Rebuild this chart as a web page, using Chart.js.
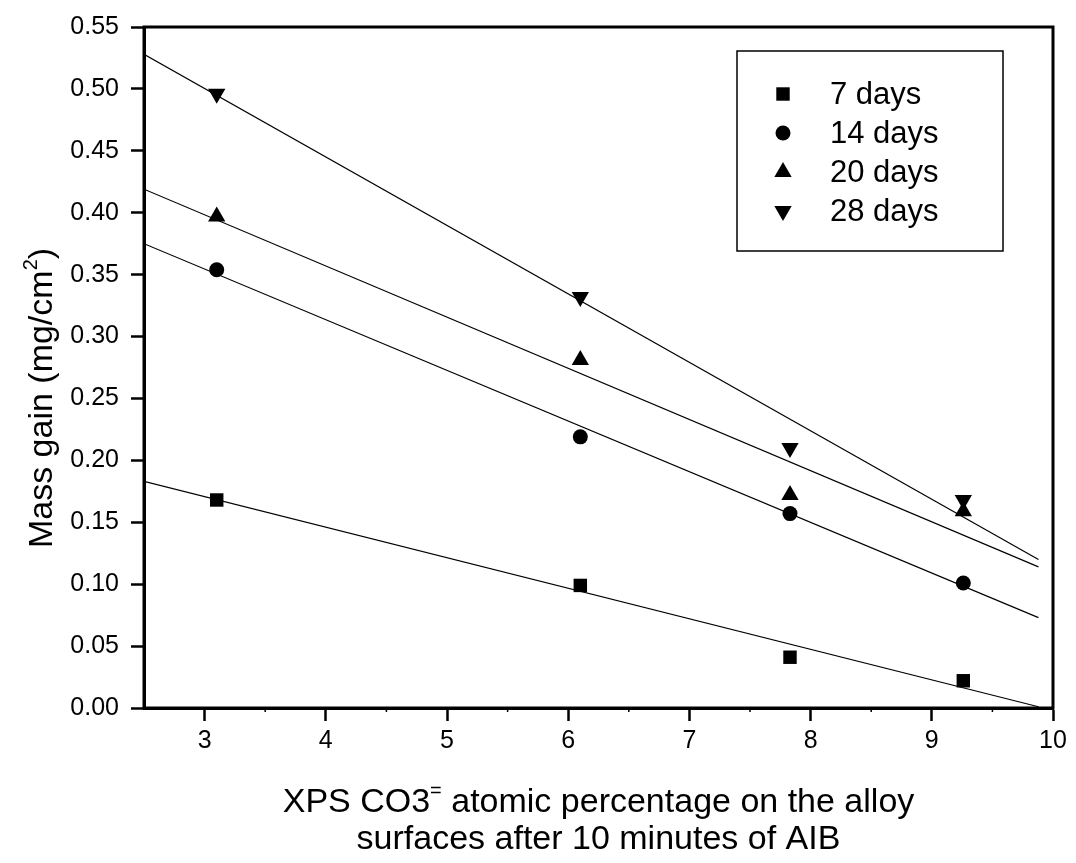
<!DOCTYPE html>
<html>
<head>
<meta charset="utf-8">
<script src="https://cdn.jsdelivr.net/npm/chart.js@4/dist/chart.umd.min.js"></script>
<style>
  html, body { margin: 0; padding: 0; background: #fff; }
  #wrap { width: 1076px; height: 863px; position: relative; }
</style>
</head>
<body>
<div id="wrap"><canvas id="c" width="1076" height="863"></canvas></div>
<script>
// values
const xValues = [3.1, 6.1, 7.83, 9.26];
const days7 = [0.168, 0.099, 0.041, 0.022];
const days14 = [0.354, 0.219, 0.157, 0.101];
const days20 = [0.397, 0.281, 0.172, 0.159];
const days28 = [0.496, 0.332, 0.210, 0.168];

// straight fit lines, end points as drawn
const fitX = [2.5, 9.88];
const fit7 = [0.183, 0.001];
const fit14 = [0.375, 0.073];
const fit20 = [0.419, 0.114];
const fit28 = [0.528, 0.120];

const xTicks = [3, 4, 5, 6, 7, 8, 9, 10];
const yTicks = [0, 0.05, 0.10, 0.15, 0.20, 0.25, 0.30, 0.35, 0.40, 0.45, 0.50, 0.55];
const seriesNames = ['7 days', '14 days', '20 days', '28 days'];

const FONT = '"Liberation Sans", Arial, Helvetica, sans-serif';

const toPoints = (xs, ys) => xs.map((x, i) => ({ x: x, y: ys[i] }));

const markers = [
  { pointStyle: 'rect', radius: 9.5, rotation: 0 },
  { pointStyle: 'circle', radius: 7.5, rotation: 0 },
  { pointStyle: 'triangle', radius: 10, rotation: 0 },
  { pointStyle: 'triangle', radius: 10, rotation: 180 }
];

const pointSets = [days7, days14, days20, days28].map((ys, i) => ({
  label: seriesNames[i],
  data: toPoints(xValues, ys),
  showLine: false,
  pointStyle: markers[i].pointStyle,
  pointRadius: markers[i].radius,
  pointRotation: markers[i].rotation,
  pointBackgroundColor: '#000',
  pointBorderColor: '#000',
  pointBorderWidth: 0,
  order: 1
}));

const fitSets = [fit7, fit14, fit20, fit28].map((ys, i) => ({
  label: seriesNames[i] + ' fit',
  data: toPoints(fitX, ys),
  showLine: true,
  borderColor: '#000',
  borderWidth: 1.2,
  pointRadius: 0,
  fill: false,
  order: 2
}));

// draw text with superscript pieces
function richWidth(ctx, parts, size) {
  let w = 0;
  parts.forEach(p => {
    ctx.font = (p.sup ? Math.round(size * 0.6) : size) + 'px ' + FONT;
    w += ctx.measureText(p.text).width;
  });
  return w;
}
function drawRich(ctx, parts, cx, baseY, size) {
  let x = cx - richWidth(ctx, parts, size) / 2;
  ctx.textAlign = 'left';
  ctx.textBaseline = 'alphabetic';
  parts.forEach(p => {
    ctx.font = (p.sup ? Math.round(size * 0.6) : size) + 'px ' + FONT;
    ctx.fillText(p.text, x, p.sup ? baseY - size * 0.45 : baseY);
    x += ctx.measureText(p.text).width;
  });
}

const framePlugin = {
  id: 'frame',
  afterDraw(chart) {
    const ctx = chart.ctx;
    const a = chart.chartArea;
    ctx.save();
    ctx.strokeStyle = '#000';
    ctx.lineWidth = 3;
    ctx.strokeRect(a.left, a.top, a.right - a.left, a.bottom - a.top);

    // minor ticks on the x axis
    const xs = chart.scales.x;
    ctx.lineWidth = 1.5;
    for (let v = 3.5; v < 10; v += 1) {
      const px = xs.getPixelForValue(v);
      ctx.beginPath();
      ctx.moveTo(px, a.bottom);
      ctx.lineTo(px, a.bottom + 4);
      ctx.stroke();
    }

    ctx.fillStyle = '#000';
    const cx = (a.left + a.right) / 2;
    // x title
    drawRich(ctx, [
      { text: 'XPS CO3' }, { text: '=', sup: true }, { text: ' atomic percentage on the alloy' }
    ], cx, 812, 34);
    drawRich(ctx, [{ text: 'surfaces after 10 minutes of AIB' }], cx, 849, 34);

    // y title
    ctx.save();
    ctx.translate(52, 398);
    ctx.rotate(-Math.PI / 2);
    drawRich(ctx, [
      { text: 'Mass gain (mg/cm' }, { text: '2', sup: true }, { text: ')' }
    ], 0, 0, 34);
    ctx.restore();

    // legend box
    ctx.lineWidth = 1.5;
    ctx.strokeRect(737, 51, 266, 200);
    const rowY = [94, 133, 172, 211];
    seriesNames.forEach((name, i) => {
      const m = markers[i];
      ctx.fillStyle = '#000';
      ctx.strokeStyle = '#000';
      Chart.helpers.drawPoint(ctx, { pointStyle: m.pointStyle, radius: m.radius, rotation: m.rotation, borderWidth: 0 }, 783, rowY[i]);
      ctx.font = '31px ' + FONT;
      ctx.textAlign = 'left';
      ctx.textBaseline = 'middle';
      ctx.fillText(name, 830, rowY[i] + 1);
    });
    ctx.restore();
  }
};

new Chart(document.getElementById('c'), {
  type: 'scatter',
  data: { datasets: fitSets.concat(pointSets) },
  plugins: [framePlugin],
  options: {
    responsive: false,
    animation: false,
    layout: { padding: { top: 20, right: 23, left: 0, bottom: 0 } },
    plugins: {
      legend: { display: false },
      tooltip: { enabled: false }
    },
    scales: {
      x: {
        type: 'linear',
        min: 2.5,
        max: 10,
        afterBuildTicks: (scale) => { scale.ticks = xTicks.map(v => ({ value: v })); },
        afterFit: (scale) => { scale.height = 155; },
        grid: {
          drawOnChartArea: false,
          drawTicks: true,
          tickLength: 13,
          tickWidth: 2.5,
          tickColor: '#000'
        },
        border: { display: true, color: '#000', width: 3 },
        ticks: {
          color: '#000',
          padding: 5,
          maxRotation: 0,
          font: { family: FONT, size: 25 },
          callback: (v) => String(v)
        }
      },
      y: {
        type: 'linear',
        min: 0,
        max: 0.55,
        afterBuildTicks: (scale) => { scale.ticks = yTicks.map(v => ({ value: v })); },
        afterFit: (scale) => { scale.width = 144; },
        grid: {
          drawOnChartArea: false,
          drawTicks: true,
          tickLength: 13,
          tickWidth: 2.5,
          tickColor: '#000'
        },
        border: { display: true, color: '#000', width: 3 },
        ticks: {
          color: '#000',
          padding: 12,
          font: { family: FONT, size: 25 },
          callback: (v) => v.toFixed(2)
        }
      }
    }
  }
});
</script>
</body>
</html>
